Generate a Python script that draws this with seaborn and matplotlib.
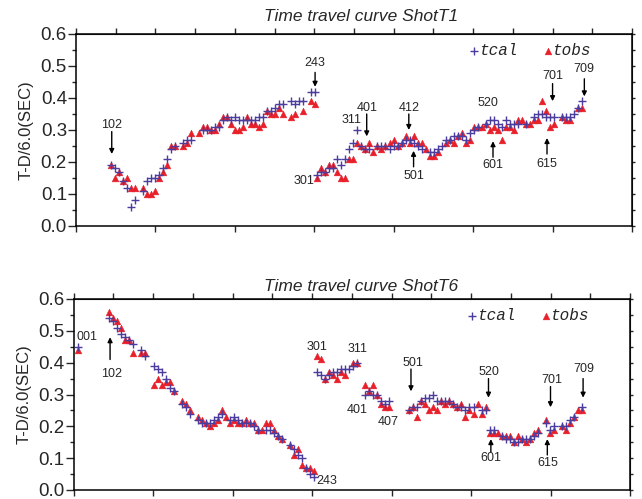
import numpy as np
import matplotlib
matplotlib.use('Agg')
import matplotlib.pyplot as plt
import seaborn as sns
from matplotlib.ticker import MultipleLocator, NullFormatter, FormatStrFormatter

sns.set_style('white')
plt.rcParams['font.family'] = ['Liberation Sans', 'DejaVu Sans']

nan = np.nan
STEP = 0.0505  # spacing between neighbouring stations (x units)

# ---------------- Shot T1 ----------------
t1_starts = [0.437, 3.038]
t1_tcal_a = [.19, .18, .17, .14, .12, .06, .08, nan, .11, .14, .15, .15, .16, .18, .21, .24, .25, nan,
             .26, .27, .27, nan, nan, .30, .30, .30, .31, .31, .33, .34, .33, .34, .33, .33, .33, .33,
             .33, .34, .34, .36, .36, .37, .38, .38, nan, .39, .38, .39, .39, nan, .42, .42]
t1_tobs_a = [.19, .15, .17, .14, .15, .12, .12, nan, .12, .10, .10, .11, .15, .17, .19, .25, .25, nan,
             .25, .26, .29, nan, .29, .31, .31, .30, .30, .32, .34, .34, .32, .30, .30, .31, .34, .32,
             .32, .31, .32, .36, .35, .35, .37, .35, nan, .34, .35, nan, .36, nan, .39, .38]
t1_tcal_b = [.16, .17, .17, .18, .18, .21, .19, .21, .24, .26, .30, .25, .24, .24, nan, .25, .25, .25,
             .24, .25, .25, .26, .27, .27, .26, .25, .24, nan, .23, .23, .24, .25, .27, .27, .28, .28,
             .28, .27, .29, .30, .31, nan, .32, .33, .33, .32, .31, .33, .32, .32, .32, nan, .32, nan,
             .34, .35, .35, .34, .34, .34, nan, .34, .34, .34, .35, .37, .39]
t1_tobs_b = [.15, .18, .17, .19, .19, .17, .15, .15, .21, .21, .26, .25, .24, .26, .23, .25, .24, .25,
             .26, .27, .25, .26, .28, .26, .28, .26, .26, .24, .22, .22, .23, nan, .26, .27, .26, .28,
             .29, .26, .27, .31, .31, .31, .32, .30, .31, .30, .27, .31, .31, .30, .33, .33, .32, .32,
             .33, .33, .39, .36, .31, .32, nan, .34, .33, .33, nan, .37, .37]

t1_labels = [('102', 0.45, 0.316), ('243', 3.01, 0.51), ('301', 2.87, 0.14), ('311', 3.47, 0.33),
             ('401', 3.66, 0.37), ('412', 4.19, 0.37), ('501', 4.25, 0.155), ('520', 5.19, 0.385),
             ('601', 5.25, 0.19), ('615', 5.93, 0.195), ('701', 6.00, 0.47), ('709', 6.40, 0.49)]
t1_arrows = [(0.45, 0.295, 0.225), (3.01, 0.48, 0.435), (3.66, 0.35, 0.28), (4.19, 0.35, 0.30),
             (4.25, 0.185, 0.235), (5.25, 0.215, 0.265), (5.93, 0.225, 0.275), (6.00, 0.445, 0.39),
             (6.40, 0.46, 0.405)]

# ---------------- Shot T6 ----------------
t6_starts = [0.053, 0.451, 3.062]
t6_tcal_0 = [.45]
t6_tobs_0 = [.44]
t6_tcal_a = [.54, .53, .51, .49, .48, .47, .46, nan, .44, .42, nan, .39, .38, .37, .35, .32, .31, nan,
             .27, .26, .24, nan, .22, .21, .21, .21, .22, .23, .24, nan, .22, .23, .22, .21, .21, .21,
             .20, .19, nan, .19, .19, .18, .17, .16, nan, .14, .13, .11, .10, .07, .05, .04]
t6_tobs_a = [.56, .54, .53, .51, .47, .47, .43, nan, .43, .43, nan, .33, .35, .33, .34, .34, .31, nan,
             .28, .27, .25, nan, .23, .22, .21, .20, .21, .22, .25, .23, .21, .22, .21, .21, .22, .21,
             .21, .19, .19, .21, .21, .19, .17, .16, nan, .14, .11, .13, .08, .07, .07, .06]
t6_tcal_b = [.37, .36, .35, .36, .37, .37, .38, .38, .38, .39, .40, nan, .30, .31, .30, .30, .28, .27,
             .28, nan, nan, nan, nan, .25, .26, .26, .28, .29, .29, .30, .28, .28, .28, .28, .27, .26,
             .26, .25, .26, .26, nan, .25, .25, .19, .19, nan, .17, .16, .16, .15, .15, .16, .16, .16,
             .17, .18, nan, .21, .19, .20, nan, .20, .20, .22, .23, nan, .26]
t6_tobs_b = [.42, .41, .35, .37, .36, .35, .37, .36, nan, .40, .40, nan, .33, .31, .33, .30, .27, .26,
             .26, nan, nan, nan, nan, .25, .26, .23, .28, .27, .25, .26, .25, .28, .27, .28, .27, .26,
             .27, .23, .25, .24, .27, .24, .26, .18, .18, .18, .17, .17, .17, .15, .17, .16, .15, .16,
             .18, .19, nan, .22, .18, .19, nan, .20, .19, .21, .23, .25, .25]

t6_labels = [('001', 0.17, 0.48), ('102', 0.48, 0.365), ('301', 3.06, 0.449), ('311', 3.57, 0.444),
             ('243', 3.19, 0.028), ('401', 3.57, 0.25), ('407', 3.96, 0.215), ('501', 4.27, 0.40),
             ('520', 5.22, 0.37), ('601', 5.25, 0.10), ('615', 5.96, 0.084), ('701', 6.02, 0.345),
             ('709', 6.42, 0.38)]
t6_arrows = [(0.46, 0.41, 0.48), (4.245, 0.38, 0.31), (5.22, 0.35, 0.29), (5.25, 0.12, 0.16),
             (5.96, 0.11, 0.16), (6.00, 0.325, 0.26), (6.41, 0.35, 0.29)]

BLUE = '#4b3d9e'
RED = '#e8202a'


def draw_panel(ax, starts, tcal_list, tobs_list, title, title_x, title_y, labels, arrows):
    for start, tcal, tobs in zip(starts, tcal_list, tobs_list):
        x = start + STEP * np.arange(len(tcal))
        sns.scatterplot(x=x, y=np.array(tobs), marker='^', color=RED, edgecolor=RED,
                        linewidth=0.3, s=24, ax=ax, label='tobs', zorder=3)
        sns.scatterplot(x=x, y=np.array(tcal), marker='+', color=BLUE, linewidth=1.0,
                        s=30, ax=ax, label='tcal', zorder=4)

    for txt, x, y in labels:
        ax.text(x, y, txt, ha='center', va='center', fontsize=9)
    for x, y0, y1 in arrows:
        ax.annotate('', xy=(x, y1), xytext=(x, y0),
                    arrowprops=dict(arrowstyle='-|>', color='black', lw=1.0,
                                    mutation_scale=7, shrinkA=0, shrinkB=0))

    ax.set_xlim(0, 7)
    ax.set_ylim(0, 0.6)
    ax.xaxis.set_major_locator(MultipleLocator(1))
    ax.xaxis.set_major_formatter(NullFormatter())
    ax.yaxis.set_major_locator(MultipleLocator(0.1))
    ax.yaxis.set_minor_locator(MultipleLocator(0.05))
    ax.yaxis.set_major_formatter(FormatStrFormatter('%.1f'))
    ax.tick_params(axis='x', direction='out', length=4, width=1, bottom=True, labelbottom=False)
    ax.tick_params(axis='y', which='major', direction='out', length=5.5, width=1, left=True,
                   labelsize=13.5, pad=1)
    ax.tick_params(axis='y', which='minor', direction='out', length=3, width=1, left=True)
    ax.set_xlabel('')
    ax.set_ylabel('T-D/6.0(SEC)', fontsize=12)
    ax.yaxis.set_label_coords(-0.076, 0.5)
    for sp in ax.spines.values():
        sp.set_linewidth(1.1)
        sp.set_color('black')

    top = ax.secondary_xaxis('top')
    top.set_xticks(np.arange(0, 7.01, 0.5))
    top.xaxis.set_major_formatter(NullFormatter())
    top.tick_params(direction='out', length=4, width=1)
    right = ax.secondary_yaxis('right')
    right.set_yticks(np.arange(0, 0.601, 0.05))
    right.yaxis.set_major_formatter(NullFormatter())
    right.tick_params(direction='out', length=2.5, width=1)

    ax.set_title(title, fontstyle='italic', fontsize=12.5, x=title_x, y=title_y,
                 va='baseline', pad=0)

    handles, names = ax.get_legend_handles_labels()
    order = [names.index('tcal'), names.index('tobs')]
    ax.legend([handles[i] for i in order], [names[i] for i in order], ncol=2,
              loc='center right', bbox_to_anchor=(0.942, 0.913), frameon=False,
              borderpad=0, handlelength=0.5, handletextpad=0.1, columnspacing=1.6,
              prop=dict(family='Liberation Mono', style='italic', size=11.5))


fig = plt.figure(figsize=(6.42, 4.99), dpi=100)
ax1 = fig.add_axes([76 / 642, 1 - 226 / 499, 556 / 642, 192 / 499])
ax2 = fig.add_axes([73.5 / 642, 1 - 490 / 499, 556.5 / 642, 191 / 499])

draw_panel(ax1, t1_starts, [t1_tcal_a, t1_tcal_b], [t1_tobs_a, t1_tobs_b],
           'Time travel curve ShotT1', 0.513, 1.069, t1_labels, t1_arrows)
draw_panel(ax2, t6_starts, [t6_tcal_0, t6_tcal_a, t6_tcal_b], [t6_tobs_0, t6_tobs_a, t6_tobs_b],
           'Time travel curve ShotT6', 0.517, 1.04, t6_labels, t6_arrows)

fig.savefig('out.png', dpi=100)
